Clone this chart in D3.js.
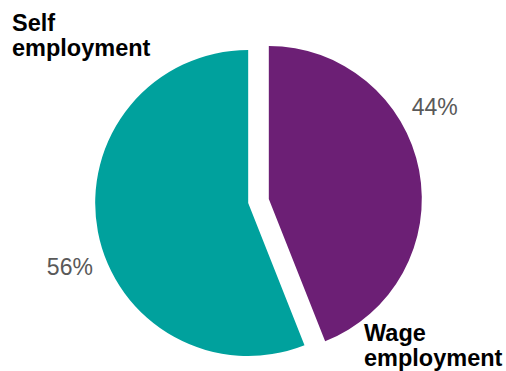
<!DOCTYPE html>
<html>
<head>
<meta charset="utf-8">
<script src="https://cdn.jsdelivr.net/npm/d3@7"></script>
<style>
  html, body { margin: 0; padding: 0; background: #fff; }
  svg { display: block; }
</style>
</head>
<body>
<svg id="chart" width="506" height="371"></svg>
<script>
// Employment type shares (%)
const categories = ["Wage employment", "Self employment"];
const shares = [44, 56];
const valueLabels = ["44%", "56%"];
const colors = ["#6C1F75", "#00A19D"];

// Layout
const W = 506, H = 371;
const cx = 258.5, cy = 201, radius = 153, explode = 10.5;
const labelFont = "Liberation Sans, Arial, Helvetica, sans-serif";

const svg = d3.select("#chart");

const pie = d3.pie().sort(null).value(d => d.value)
  .startAngle(0).endAngle(2 * Math.PI);
const arcs = pie(categories.map((c, i) => ({ name: c, value: shares[i], label: valueLabels[i], color: colors[i] })));

const arc = d3.arc().innerRadius(0).outerRadius(radius);

const g = svg.append("g").attr("transform", `translate(${cx},${cy})`);

// Exploded slices, each pushed out along its bisector
g.selectAll("path.slice")
  .data(arcs)
  .join("path")
  .attr("class", "slice")
  .attr("d", arc)
  .attr("fill", d => d.data.color)
  .attr("transform", d => {
    const mid = (d.startAngle + d.endAngle) / 2;
    return `translate(${explode * Math.sin(mid)},${-explode * Math.cos(mid)})`;
  });

// Percentage labels placed just outside the rim
const pctPos = [
  { angle: 61.8, dist: 200 },   // 44%
  { angle: 250.6, dist: 200 }   // 56%
];
g.selectAll("text.pct")
  .data(arcs)
  .join("text")
  .attr("class", "pct")
  .attr("x", (d, i) => pctPos[i].dist * Math.sin(pctPos[i].angle * Math.PI / 180))
  .attr("y", (d, i) => -pctPos[i].dist * Math.cos(pctPos[i].angle * Math.PI / 180))
  .attr("text-anchor", "middle")
  .attr("dominant-baseline", "central")
  .attr("font-family", labelFont)
  .attr("font-size", 23)
  .attr("fill", "#595959")
  .text(d => d.data.label);

// Category names
const namePos = [
  { x: 364, y: 341 },  // Wage employment
  { x: 12, y: 31 }     // Self employment
];
categories.forEach((name, i) => {
  const words = name.split(" ");
  const t = svg.append("text")
    .attr("x", namePos[i].x)
    .attr("y", namePos[i].y)
    .attr("font-family", labelFont)
    .attr("font-size", 23.5)
    .attr("font-weight", "bold")
    .attr("fill", "#000");
  words.forEach((w, j) => {
    t.append("tspan")
      .attr("x", namePos[i].x)
      .attr("dy", j === 0 ? 0 : 25)
      .text(w);
  });
});
</script>
</body>
</html>
